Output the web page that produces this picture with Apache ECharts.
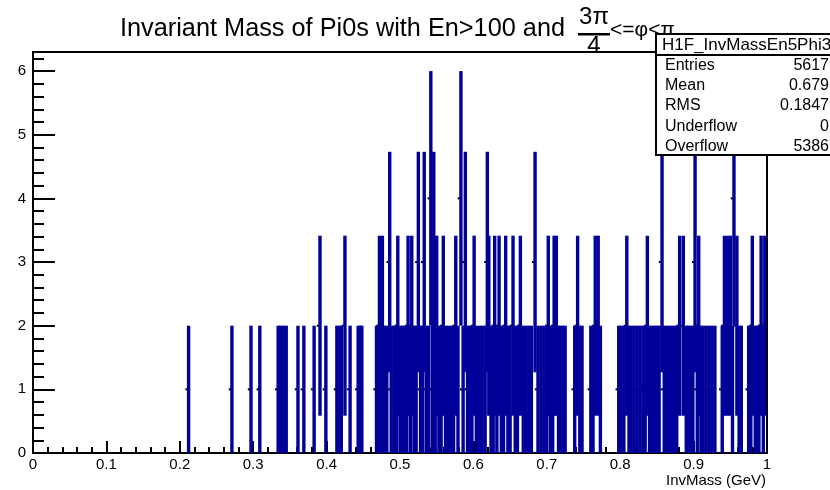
<!DOCTYPE html>
<html>
<head>
<meta charset="utf-8">
<script src="https://cdn.jsdelivr.net/npm/echarts@6/dist/echarts.min.js"></script>
<style>
  html, body { margin: 0; padding: 0; background: #fff; }
  #chart { width: 830px; height: 490px; }
</style>
</head>
<body>
<div id="chart"></div>
<script>
// Bin centres (GeV) of the 1000-bin histogram, grouped by bin content
const binsWith1 = [
  0.212, 0.271, 0.297, 0.309, 0.334, 0.337, 0.341, 0.345, 0.361, 0.369, 0.383, 0.399,
  0.414, 0.417, 0.420, 0.432, 0.443, 0.446, 0.448,
  0.468, 0.471, 0.475, 0.479, 0.482, 0.488, 0.492, 0.495, 0.500, 0.503, 0.506, 0.509,
  0.514, 0.519, 0.522, 0.528, 0.531, 0.536, 0.539, 0.544, 0.548, 0.553, 0.556, 0.562,
  0.566, 0.570, 0.573, 0.579, 0.586, 0.592, 0.595, 0.598, 0.604, 0.608, 0.612, 0.616,
  0.624, 0.627, 0.632, 0.638, 0.641, 0.647, 0.650, 0.657, 0.660,
  0.668, 0.672, 0.676, 0.679, 0.688, 0.692, 0.696, 0.700, 0.705, 0.708, 0.716, 0.719,
  0.722, 0.725, 0.738, 0.745, 0.748, 0.760, 0.763, 0.773, 0.798, 0.801, 0.805, 0.812,
  0.815, 0.819, 0.823, 0.827,
  0.831, 0.834, 0.840, 0.843, 0.847, 0.850, 0.853, 0.860, 0.863, 0.867, 0.870, 0.874,
  0.877, 0.890, 0.893, 0.896, 0.899, 0.905, 0.910, 0.913, 0.917, 0.921, 0.925, 0.929,
  0.939, 0.953, 0.962, 0.965, 0.975, 0.978, 0.984, 0.987, 0.989, 0.995
];
const binsWith2 = [
  0.391, 0.425, 0.472, 0.476, 0.497, 0.511, 0.516, 0.550, 0.559, 0.576, 0.601, 0.621,
  0.629, 0.635, 0.644, 0.654, 0.664, 0.702, 0.710, 0.713, 0.742, 0.766, 0.770, 0.809,
  0.837, 0.881, 0.886, 0.907, 0.942, 0.946, 0.950, 0.959, 0.980, 0.992, 0.997
];
const binsWith3 = [0.486, 0.525, 0.533, 0.546, 0.589, 0.619, 0.684, 0.857, 0.902];
const binsWith4 = [0.542, 0.583, 0.955];

const binWidth = 0.001;

// Statistics box
const statsTitle = 'H1F_InvMassEn5Phi3';
const statsLabels = ['Entries', 'Mean', 'RMS', 'Underflow', 'Overflow'];
const statsValues = ['5617', '0.679', '0.1847', '0', '5386'];

const histogram = [];
[[binsWith1, 1], [binsWith2, 2], [binsWith3, 3], [binsWith4, 4]].forEach(([list, n]) => {
  list.forEach(x => histogram.push([x, n]));
});
histogram.sort((a, b) => a[0] - b[0]);

const FONT = '"Liberation Sans", Arial, Helvetica, sans-serif';
const BLUE = '#000099';
const BAR_PX = 3.4;

const chart = echarts.init(document.getElementById('chart'), null, { renderer: 'canvas' });

// Each filled bin: black marker at the content, vertical error bar of ±sqrt(n),
// horizontal bar across the bin width. Markers sit beneath all error bars.
function renderBin(params, api) {
  const x = api.value(0);
  const n = api.value(1);
  const err = Math.sqrt(n);
  const top = api.coord([x, n + err]);
  const bot = api.coord([x, Math.max(0, n - err)]);
  const mid = api.coord([x, n]);
  const l = api.coord([x - binWidth / 2, n]);
  const r = api.coord([x + binWidth / 2, n]);
  return {
    type: 'group',
    children: [
      { type: 'rect', z2: 0, shape: { x: mid[0] - 3.2, y: mid[1] - 1, width: 4, height: 2 },
        style: { fill: '#000' } },
      { type: 'rect', z2: 10, shape: { x: top[0] - BAR_PX / 2, y: top[1], width: BAR_PX, height: bot[1] - top[1] },
        style: { fill: BLUE } },
      { type: 'line', z2: 10, shape: { x1: l[0], y1: l[1], x2: r[0], y2: r[1] },
        style: { stroke: BLUE, lineWidth: 2 } }
    ]
  };
}

const option = {
  animation: false,
  backgroundColor: '#fff',
  grid: {
    left: 33, right: 63, top: 52, bottom: 37,
    show: true, borderColor: '#000', borderWidth: 2, backgroundColor: 'transparent'
  },
  xAxis: {
    type: 'value', min: 0, max: 1, interval: 0.1,
    axisLine: { show: true, onZero: false, lineStyle: { color: '#000', width: 2 } },
    axisTick: { show: true, inside: true, length: 12, lineStyle: { color: '#000', width: 2 } },
    minorTick: { show: true, splitNumber: 5, length: 6, lineStyle: { color: '#000', width: 2 } },
    splitLine: { show: false },
    axisLabel: { color: '#000', fontFamily: FONT, fontSize: 15, margin: 4 },
    name: 'InvMass (GeV)', nameLocation: 'end',
    nameTextStyle: { color: '#000', fontFamily: FONT, fontSize: 15, align: 'right',
      verticalAlign: 'top', padding: [20, 0, 0, 0] },
    nameGap: -1
  },
  yAxis: [{
    type: 'value', min: 0, max: 6.3, interval: 1,
    axisLine: { show: true, onZero: false, lineStyle: { color: '#000', width: 2 } },
    axisTick: { show: true, inside: true, length: 22, lineStyle: { color: '#000', width: 2 } },
    splitLine: { show: false },
    axisLabel: { color: '#000', fontFamily: FONT, fontSize: 15, margin: 7, showMaxLabel: false }
  }, {
    type: 'value', min: 0, max: 6.3, interval: 0.2, position: 'left',
    axisLine: { show: false },
    axisTick: { show: true, inside: true, length: 11, lineStyle: { color: '#000', width: 2 } },
    axisLabel: { show: false },
    splitLine: { show: false }
  }],
  series: [{
    type: 'custom',
    renderItem: renderBin,
    data: histogram,
    encode: { x: 0, y: 1 },
    clip: true,
    z: 5
  }],
  graphic: [
    { type: 'text', x: 120, y: 29, z: 50,
      style: { text: 'Invariant Mass of Pi0s with En>100 and', fill: '#000',
        font: '25.3px ' + FONT, verticalAlign: 'middle' } },
    { type: 'text', x: 594, y: 17, z: 50,
      style: { text: '3π', fill: '#000', font: '24px ' + FONT, align: 'center', verticalAlign: 'middle' } },
    { type: 'rect', shape: { x: 578, y: 33, width: 32, height: 2.5 }, z: 50, style: { fill: '#000' } },
    { type: 'text', x: 594, y: 46, z: 50,
      style: { text: '4', fill: '#000', font: '24px ' + FONT, align: 'center', verticalAlign: 'middle' } },
    { type: 'text', x: 610, y: 30, z: 50,
      style: { text: '<=φ<π', fill: '#000', font: '21px ' + FONT, verticalAlign: 'middle' } },
    // statistics box
    { type: 'rect', z: 100, shape: { x: 656, y: 34, width: 190, height: 121 },
      style: { fill: '#fff', stroke: '#000', lineWidth: 2 } },
    { type: 'line', z: 101, shape: { x1: 656, y1: 55, x2: 830, y2: 55 },
      style: { stroke: '#000', lineWidth: 2 } },
    { type: 'text', z: 101, x: 662, y: 45,
      style: { text: statsTitle, fill: '#000', font: '17px ' + FONT, verticalAlign: 'middle' } },
    ...statsLabels.map((t, i) => ({
      type: 'text', z: 101, x: 665, y: 65.5 + i * 20.2,
      style: { text: t, fill: '#000', font: '16px ' + FONT, verticalAlign: 'middle' }
    })),
    ...statsValues.map((t, i) => ({
      type: 'text', z: 101, x: 829, y: 65.5 + i * 20.2,
      style: { text: t, fill: '#000', font: '16px ' + FONT, verticalAlign: 'middle', align: 'right' }
    }))
  ]
};

chart.setOption(option);
</script>
</body>
</html>
